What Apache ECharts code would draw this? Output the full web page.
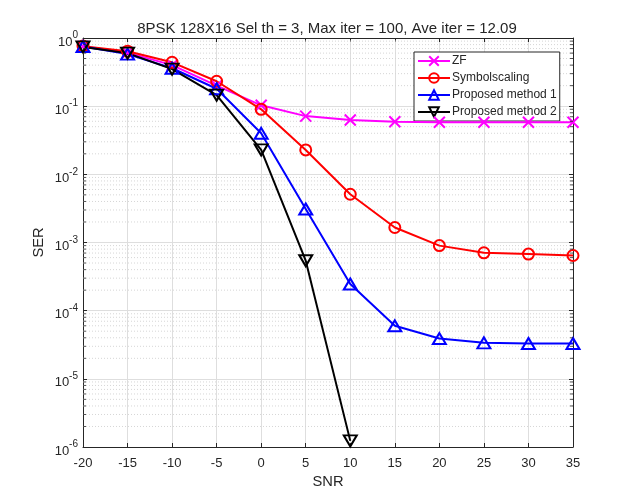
<!DOCTYPE html>
<html>
<head>
<meta charset="utf-8">
<script src="https://cdn.jsdelivr.net/npm/echarts@6/dist/echarts.min.js"></script>
<style>
  html, body { margin: 0; padding: 0; background: #fff; }
  #main { width: 633px; height: 503px; }
</style>
</head>
<body>
<div id="main"></div>
<script>
// SNR 轴
var snr = [-20, -15, -10, -5, 0, 5, 10, 15, 20, 25, 30, 35]
// 各方法的 SER
var zfSer = [0.75, 0.61, 0.40, 0.20, 0.103, 0.0715, 0.0625, 0.059, 0.058, 0.058, 0.058, 0.058]
var scalingSer = [0.76, 0.64, 0.44, 0.232, 0.09, 0.0228, 0.0051, 0.00166, 0.0009, 0.000706, 0.000676, 0.000645]
var method1Ser = [0.75, 0.58, 0.36, 0.18, 0.04, 0.0031, 0.000246, 0.00006, 0.000039, 0.0000337, 0.000033, 0.000033]
var method2Ser = [0.74, 0.60, 0.35, 0.145, 0.0228, 0.00054, 0.00000123, null, null, null, null, null]
var seriesNames = ['ZF', 'Symbolscaling', 'Proposed method 1', 'Proposed method 2']
var decades = [-6, -5, -4, -3, -2, -1, 0]

var font = 'Liberation Sans, Arial, Helvetica, sans-serif'
var ink = '#262626'
var xMin = snr[0]
var xMax = snr[snr.length - 1]

function pairs (ys) {
  return snr.map(function (x, i) { return [x, ys[i]] })
}

// 次刻度值 2..9 x 10^k
var minorVals = []
decades.slice(0, -1).forEach(function (k) {
  for (var m = 2; m <= 9; m++) minorVals.push(m * Math.pow(10, k))
})
// 次网格线：每条一段，中间用 null 断开
var minorGrid = []
minorVals.forEach(function (v) {
  minorGrid.push([xMin, v], [xMax, v], [xMin, null])
})

function mkSeries (name, ys, color, symbol, size) {
  return {
    name: name,
    type: 'line',
    data: pairs(ys),
    z: 5,
    symbol: symbol,
    symbolSize: size,
    showAllSymbol: true,
    connectNulls: false,
    lineStyle: { color: color, width: 2 },
    itemStyle: { color: 'rgba(0,0,0,0)', borderColor: color, borderWidth: 2 },
    emphasis: { disabled: true }
  }
}

function minorTicks (x, offset) {
  return {
    type: 'scatter',
    data: minorVals.map(function (v) { return [x, v] }),
    symbol: 'rect',
    symbolSize: [3, 1],
    symbolOffset: [offset, 0],
    itemStyle: { color: ink },
    silent: true,
    z: 6
  }
}

const chart = echarts.init(document.getElementById('main'))
chart.setOption({
  animation: false,
  backgroundColor: '#fff',
  textStyle: { fontFamily: font },
  title: {
    text: '8PSK 128X16 Sel th = 3, Max iter = 100, Ave iter = 12.09',
    left: 322,
    textAlign: 'center',
    top: 16,
    textStyle: { fontFamily: font, fontSize: 15, fontWeight: 'normal', color: ink }
  },
  grid: { left: 83, right: 60, top: 38, bottom: 56, containLabel: false },
  legend: {
    orient: 'vertical',
    left: 414,
    top: 52,
    padding: [3, 3, 3, 3],
    itemGap: 5,
    itemWidth: 32,
    itemHeight: 12,
    backgroundColor: '#fff',
    borderColor: ink,
    borderWidth: 1,
    borderRadius: 0,
    data: seriesNames,
    textStyle: { fontFamily: font, fontSize: 12, color: ink, padding: [0, 0, 0, -3] }
  },
  xAxis: [{
    type: 'value',
    min: xMin,
    max: xMax,
    interval: 5,
    name: 'SNR',
    nameLocation: 'middle',
    nameGap: 27,
    nameMoveOverlap: false,
    nameTextStyle: { fontFamily: font, fontSize: 14.7, color: ink },
    axisLine: { onZero: false, lineStyle: { color: ink, width: 1 } },
    axisTick: { inside: true, length: 4, lineStyle: { color: ink } },
    axisLabel: { margin: 10, fontFamily: font, fontSize: 13, color: ink },
    splitLine: { show: true, lineStyle: { color: '#dedede', width: 1 } }
  }, {
    type: 'value',
    position: 'top',
    min: xMin,
    max: xMax,
    interval: 5,
    axisLine: { show: true, onZero: false, lineStyle: { color: ink, width: 1 } },
    axisTick: { show: true, inside: true, length: 4, lineStyle: { color: ink } },
    axisLabel: { show: false },
    splitLine: { show: false }
  }],
  yAxis: [{
    type: 'log',
    logBase: 10,
    min: 1e-6,
    max: 1,
    interval: 1,
    name: 'SER',
    nameLocation: 'middle',
    nameGap: 37,
    nameMoveOverlap: false,
    nameRotate: 90,
    nameTextStyle: { fontFamily: font, fontSize: 14.7, color: ink },
    axisLine: { show: true, onZero: false, lineStyle: { color: ink, width: 1 } },
    axisTick: { show: true, inside: true, length: 4, lineStyle: { color: ink } },
    axisLabel: {
      margin: 5,
      formatter: function (v) {
        var e = Math.round(Math.log10(v))
        return '{b|10}{s|' + e + '}'
      },
      rich: {
        b: { fontFamily: font, fontSize: 13, color: ink, padding: [8, 0, 0, 0] },
        s: { fontFamily: font, fontSize: 10, color: ink, padding: [0, 0, 5, 0] }
      }
    },
    splitLine: { show: true, lineStyle: { color: '#dedede', width: 1 } }
  }, {
    type: 'log',
    logBase: 10,
    position: 'right',
    min: 1e-6,
    max: 1,
    interval: 1,
    axisLine: { show: true, onZero: false, lineStyle: { color: ink, width: 1 } },
    axisTick: { show: true, inside: true, length: 4, lineStyle: { color: ink } },
    axisLabel: { show: false },
    splitLine: { show: false }
  }],
  series: [
    {
      type: 'line',
      data: minorGrid,
      z: 1,
      silent: true,
      symbol: 'none',
      connectNulls: false,
      lineStyle: { color: '#d6d6d6', type: [1, 2], width: 1 }
    },
    minorTicks(xMin, 1.5),
    minorTicks(xMax, -1.5),
    mkSeries(seriesNames[0], zfSer, '#ff00ff', 'path://M0,0L10,10M10,0L0,10', 11),
    mkSeries(seriesNames[1], scalingSer, '#ff0000', 'circle', 11),
    mkSeries(seriesNames[2], method1Ser, '#0000ff', 'triangle', [13, 11]),
    mkSeries(seriesNames[3], method2Ser, '#000000', 'path://M0,0L10,0L5,9Z', [13, 11])
  ]
})
</script>
</body>
</html>
